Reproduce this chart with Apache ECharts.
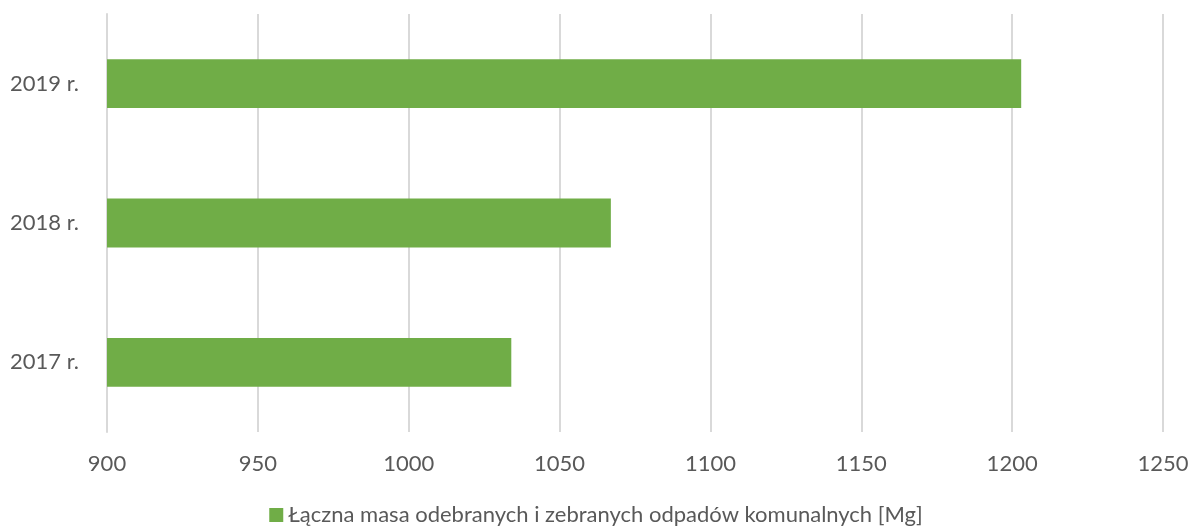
<!DOCTYPE html>
<html>
<head>
<meta charset="utf-8">
<script src="https://cdn.jsdelivr.net/npm/echarts@6/dist/echarts.min.js"></script>
<style>
  html, body { margin: 0; padding: 0; background: #fff; }
  #chart { width: 1192px; height: 527px; }
</style>
</head>
<body>
<div id="chart"></div>
<script>
// dane
const years = ['2017 r.', '2018 r.', '2019 r.'];
const masa = [1034, 1067, 1203];
const seriesName = 'Łączna masa odebranych i zebranych odpadów komunalnych [Mg]';
const xMin = 900, xMax = 1250, xStep = 50;

const myChart = echarts.init(document.getElementById('chart'));
myChart.setOption({
    animation: false,
    textStyle: { fontFamily: 'Lato', color: '#595959' },
    grid: { left: 107, right: 29, top: 14, bottom: 95 },
    legend: {
        bottom: -4,
        left: 'center',
        icon: 'rect',
        itemWidth: 14,
        itemHeight: 14,
        textStyle: { fontSize: 22, color: '#595959', fontFamily: 'Lato' },
        data: [seriesName]
    },
    xAxis: {
        type: 'value',
        min: xMin,
        max: xMax,
        interval: xStep,
        axisLine: { show: false },
        axisTick: { show: false },
        axisLabel: { fontSize: 22, color: '#595959', margin: 21, formatter: v => String(v) },
        splitLine: { lineStyle: { color: '#d9d9d9', width: 2 } }
    },
    yAxis: {
        type: 'category',
        data: years,
        axisLine: { lineStyle: { color: '#d9d9d9', width: 2 } },
        axisTick: { show: false },
        axisLabel: { fontSize: 22, color: '#595959', margin: 28 }
    },
    series: [
        {
            name: seriesName,
            type: 'bar',
            data: masa,
            barWidth: '35%',
            itemStyle: { color: '#70AD47' }
        }
    ]
});
</script>
</body>
</html>
